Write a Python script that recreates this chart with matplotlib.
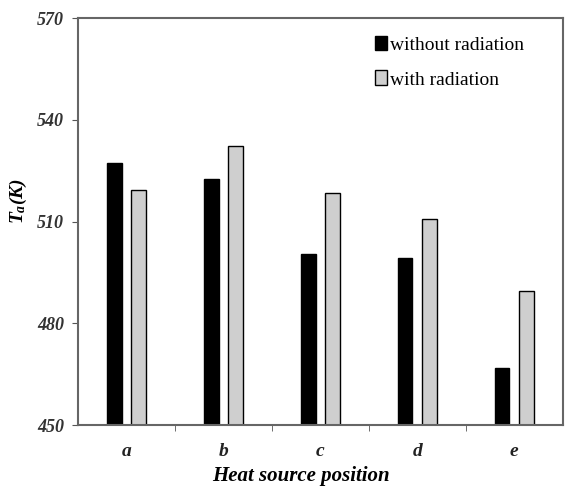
import matplotlib.pyplot as plt
import numpy as np

positions = ["a", "b", "c", "d", "e"]
without_rad = [527.2, 522.5, 500.4, 499.2, 466.8]
with_rad = [519.3, 532.2, 518.4, 510.7, 489.5]
y_ticks = [450, 480, 510, 540, 570]

serif = ["Liberation Serif", "DejaVu Serif"]
plt.rcParams["mathtext.fontset"] = "custom"
plt.rcParams["mathtext.it"] = "Liberation Serif:italic:bold"
plt.rcParams["mathtext.rm"] = "Liberation Serif:bold"

fig = plt.figure(figsize=(5.65, 4.95), dpi=100)
ax = fig.add_axes([0.138, 0.1414, 0.858, 0.822])

x = np.arange(len(positions))
w = 0.15
ax.bar(x - 0.125, np.array(without_rad) - 450, w, bottom=450, color="black",
       edgecolor="black", linewidth=1, label="without radiation")
ax.bar(x + 0.125, np.array(with_rad) - 450, w, bottom=450, color="#cfcfcf",
       edgecolor="black", linewidth=1, label="with radiation")

ax.set_xlim(-0.5, len(positions) - 0.5)
ax.set_ylim(450, 570)
ax.set_yticks(y_ticks)
ax.set_yticklabels([str(v) for v in y_ticks], family=serif, style="italic",
                   fontweight="bold", fontsize=13, color="#333333")
ax.set_xticks(x)
ax.set_xticklabels(positions, family=serif, style="italic", fontweight="bold",
                   fontsize=14, color="#222222")
ax.set_xticks(x[:-1] + 0.5, minor=True)
ax.tick_params(axis="x", which="major", length=0, pad=13)
ax.tick_params(axis="x", which="minor", length=4, direction="out", color="#555555")
ax.tick_params(axis="y", length=4, direction="out", color="#555555", pad=6)

for s in ax.spines.values():
    s.set_color("#666666")
    s.set_linewidth(1.5)

ax.set_xlabel("Heat source position", family=serif, style="italic",
              fontweight="bold", fontsize=15, labelpad=0)
ax.xaxis.set_label_coords(0.46, -0.1)
ax.set_ylabel("$T_a$(K)", family=serif, style="italic", fontweight="bold",
              fontsize=14, labelpad=2)
ax.yaxis.set_label_coords(-0.1, 0.55)

leg = ax.legend(loc="upper right", bbox_to_anchor=(0.957, 1.0), frameon=False,
                prop={"family": serif, "size": 14}, handlelength=0.6,
                handleheight=0.8, handletextpad=0.2, labelspacing=0.85)

fig.savefig("out.png", dpi=100)
